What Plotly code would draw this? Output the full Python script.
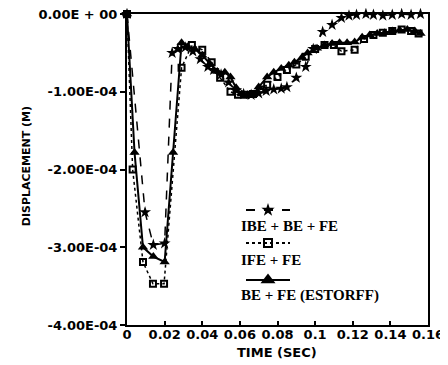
import numpy as np
import plotly.graph_objects as go

# ---- data (time in s, displacement in units of 1e-4 m) ----
t_ibe = [0, 0.0096, 0.014, 0.020, 0.024, 0.027, 0.031, 0.035, 0.039, 0.043, 0.046, 0.050,
         0.054, 0.058, 0.062, 0.066, 0.070, 0.074, 0.078, 0.082, 0.085, 0.090, 0.095, 0.099,
         0.104, 0.109, 0.114, 0.118, 0.122, 0.127, 0.131, 0.136, 0.141, 0.146, 0.151, 0.156]
d_ibe = [0, -2.55, -2.97, -2.95, -0.50, -0.45, -0.43, -0.48, -0.58, -0.68, -0.72, -0.78,
         -0.88, -0.98, -1.03, -1.04, -1.02, -0.99, -0.97, -0.96, -0.94, -0.82, -0.68, -0.45,
         -0.23, -0.14, -0.05, -0.02, -0.01, 0.00, -0.01, -0.02, -0.01, 0.00, -0.01, 0.00]

t_ife = [0, 0.003, 0.0085, 0.0138, 0.0197, 0.029, 0.0345, 0.040, 0.045, 0.0495, 0.055,
         0.059, 0.063, 0.067, 0.071, 0.0745, 0.080, 0.085, 0.090, 0.095, 0.100, 0.105,
         0.110, 0.114, 0.121, 0.126, 0.131, 0.136, 0.141, 0.146, 0.151, 0.155]
d_ife = [0, -2.00, -3.19, -3.47, -3.47, -0.69, -0.40, -0.46, -0.62, -0.82, -1.00,
         -1.04, -1.04, -1.03, -0.97, -0.91, -0.81, -0.72, -0.65, -0.55, -0.45, -0.40,
         -0.40, -0.48, -0.46, -0.32, -0.27, -0.24, -0.22, -0.20, -0.22, -0.25]

t_bef = [0, 0.004, 0.0085, 0.014, 0.020, 0.0245, 0.029, 0.032, 0.036, 0.040, 0.044, 0.048,
         0.052, 0.055, 0.058, 0.061, 0.064, 0.067, 0.070, 0.0745, 0.078, 0.082, 0.086, 0.089,
         0.093, 0.096, 0.101, 0.105, 0.109, 0.113, 0.117, 0.121, 0.125, 0.129, 0.133, 0.137,
         0.141, 0.145, 0.149, 0.153, 0.156]
d_bef = [0, -1.78, -3.00, -3.12, -3.19, -1.78, -0.37, -0.42, -0.45, -0.53, -0.64, -0.74,
         -0.75, -0.81, -0.95, -1.03, -1.04, -1.04, -0.94, -0.81, -0.75, -0.70, -0.66, -0.62,
         -0.56, -0.50, -0.44, -0.40, -0.38, -0.37, -0.37, -0.36, -0.30, -0.27, -0.25, -0.24,
         -0.22, -0.21, -0.20, -0.22, -0.25]

UNIT = 1e-4
x_tickvals = [0, 0.02, 0.04, 0.06, 0.08, 0.1, 0.12, 0.14, 0.16]
x_ticktext = ["0", "0.02", "0.04", "0.06", "0.08", "0.1", "0.12", "0.14", "0.16"]
y_tickvals = [0, -1e-4, -2e-4, -3e-4, -4e-4]
y_ticktext = ["0.00E + 00", "-1.00E-04", "-2.00E-04", "-3.00E-04", "-4.00E-04"]

labels = ["IBE + BE + FE", "IFE + FE", "BE + FE (ESTORFF)"]

fig = go.Figure()

fig.add_trace(go.Scatter(
    x=t_ife, y=np.array(d_ife) * UNIT, mode="lines+markers", name=labels[1],
    line=dict(color="black", width=1.5, dash="dot"),
    marker=dict(symbol="square-open", size=6, color="black", line=dict(width=2, color="black")),
    showlegend=False, cliponaxis=False))
fig.add_trace(go.Scatter(
    x=t_ibe, y=np.array(d_ibe) * UNIT, mode="lines+markers", name=labels[0],
    line=dict(color="black", width=1.5, dash="dash"),
    marker=dict(symbol="star", size=9, color="black"),
    showlegend=False, cliponaxis=False))
fig.add_trace(go.Scatter(
    x=t_bef, y=np.array(d_bef) * UNIT, mode="lines+markers", name=labels[2],
    line=dict(color="black", width=2),
    marker=dict(symbol="triangle-up", size=9, color="black"),
    showlegend=False, cliponaxis=False))

# ---- custom legend (sample line above label); overlay axes in window pixels ----
leg_rows = [
    dict(y=210, dash="dash", sym="star", msize=10, mline=0, ty=226),
    dict(y=243, dash="dot", sym="square-open", msize=8, mline=2, ty=260),
    dict(y=280, dash="solid", sym="triangle-up", msize=13, mline=0, ty=295),
]
for i, r in enumerate(leg_rows):
    fig.add_trace(go.Scatter(
        x=[246, 290], y=[r["y"], r["y"]], mode="lines", xaxis="x2", yaxis="y2",
        line=dict(color="black", width=2, dash=r["dash"]), showlegend=False, hoverinfo="skip"))
    fig.add_trace(go.Scatter(
        x=[268], y=[r["y"]], mode="markers", xaxis="x2", yaxis="y2",
        marker=dict(symbol=r["sym"], size=r["msize"], color="black",
                    line=dict(width=r["mline"], color="black")),
        showlegend=False, hoverinfo="skip"))
    fig.add_annotation(x=239, y=r["ty"], xref="x2", yref="y2", text="<b>%s</b>" % labels[i],
                       showarrow=False, xanchor="left", yanchor="middle",
                       font=dict(family="Liberation Serif", size=15, color="black"))

tick_font = dict(family="DejaVu Sans", size=13, color="black", weight="bold")

# The page body has an 8 px margin, so the figure is 8 px smaller on each side.
# Plot area in window pixels: x 127..428, y 14..325
fig.update_layout(
    width=440, height=357,
    margin=dict(l=119, r=20, t=6, b=40, pad=0),
    paper_bgcolor="white", plot_bgcolor="white",
    font=dict(family="DejaVu Sans", color="black"),
    xaxis=dict(range=[0, 0.16], tickvals=x_tickvals, ticktext=x_ticktext,
               showgrid=False, zeroline=False, showline=True, linecolor="black",
               linewidth=2, mirror=True, ticks="inside", ticklen=4, tickwidth=1.5,
               tickcolor="black", tickfont=tick_font, ticklabeloverflow="allow",
               ticklabelstandoff=-4, automargin=False),
    yaxis=dict(range=[-4e-4, 0], tickvals=y_tickvals, ticktext=y_ticktext,
               showgrid=False, zeroline=False, showline=True, linecolor="black",
               linewidth=2, mirror=True, ticks="outside", ticklen=5, tickwidth=1.5,
               tickcolor="black", tickfont=tick_font, ticklabeloverflow="allow",
               automargin=False),
    xaxis2=dict(domain=[0, 1], range=[127, 428], overlaying="x", visible=False),
    yaxis2=dict(domain=[0, 1], range=[325, 14], overlaying="y", visible=False),
)

fig.add_annotation(x=0.498, y=-0.09, xref="paper", yref="paper", text="<b>TIME (SEC)</b>",
                   showarrow=False, xanchor="center", yanchor="middle",
                   font=dict(family="DejaVu Sans", size=13, color="black"))
fig.add_annotation(x=-0.335, y=0.511, xref="paper", yref="paper",
                   text="<b>DISPLACEMENT (M)</b>",
                   showarrow=False, textangle=-90, xanchor="center", yanchor="middle",
                   font=dict(family="DejaVu Sans", size=11, color="black"))

fig.write_html("out.html")
